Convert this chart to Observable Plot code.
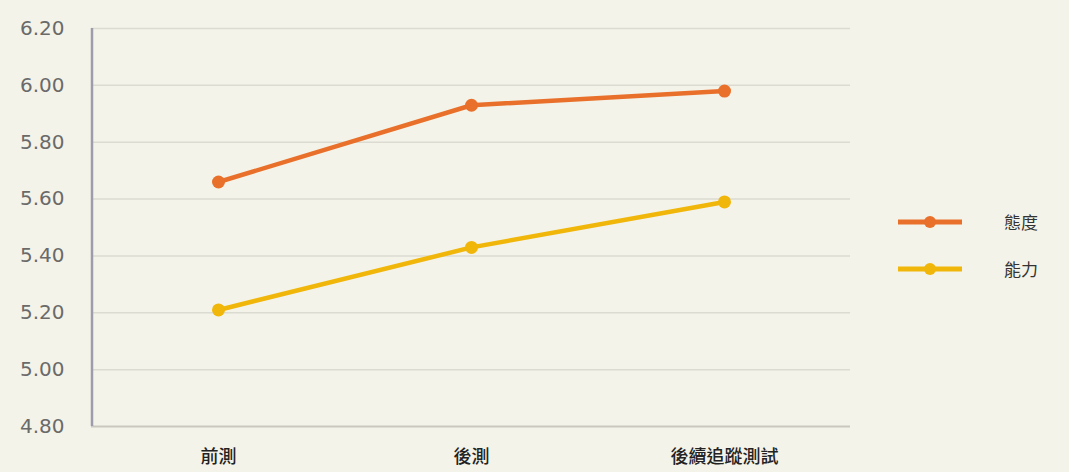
<!DOCTYPE html>
<html><head><meta charset="utf-8">
<script src="https://cdn.jsdelivr.net/npm/d3@7"></script>
<script src="https://cdn.jsdelivr.net/npm/@observablehq/plot@0.6"></script>
<style>
html,body{margin:0;padding:0;background:#f4f3e9;}
#wrap{position:relative;width:1069px;height:472px;overflow:hidden;}
#legend{position:absolute;left:0;top:0;font-family:"Noto Sans CJK TC",sans-serif;font-size:17px;color:#333;}
.item{position:absolute;display:flex;align-items:center;white-space:nowrap;}
</style></head>
<body><div id="wrap"><div id="chart"></div><div id="legend"></div></div>
<script>
const categories = ["前測", "後測", "後續追蹤測試"];
const seriesNames = ["態度", "能力"];
const attitude = [5.66, 5.93, 5.98];
const ability = [5.21, 5.43, 5.59];
const colors = ["#e8702a", "#f0b60a"];
const yTicks = [4.8, 5.0, 5.2, 5.4, 5.6, 5.8, 6.0, 6.2];

const data = [];
categories.forEach((c, i) => {
  data.push({cat: c, series: seriesNames[0], value: attitude[i]});
  data.push({cat: c, series: seriesNames[1], value: ability[i]});
});

const chart = Plot.plot({
  width: 1069, height: 472,
  marginLeft: 91, marginRight: 219, marginTop: 28, marginBottom: 46,
  style: {background: "#f4f3e9", fontFamily: "DejaVu Sans, sans-serif", overflow: "visible"},
  x: {type: "point", domain: categories, padding: 0.5, label: null},
  y: {domain: [4.8, 6.2], label: null},
  color: {domain: seriesNames, range: colors},
  marks: [
    Plot.ruleY(yTicks.slice(1), {stroke: "#dcdbd2", strokeWidth: 1.5}),
    Plot.ruleY([4.8], {stroke: "#c9c8c0", strokeWidth: 2}),
    Plot.ruleX([categories[0]], {stroke: "#9c9cab", strokeWidth: 2.5, dx: -126.5, y1: 4.8, y2: 6.2}),
    Plot.axisY({ticks: yTicks, tickFormat: d3.format(".2f"), tickSize: 0, tickPadding: 27, fontSize: 20, fill: "#6a6a6a", label: null}),
    Plot.axisX({tickSize: 0, tickPadding: 24, fontSize: 18, fill: "#222", fontWeight: 500, label: null, fontFamily: "Noto Sans CJK TC"}),
    Plot.line(data, {x: "cat", y: "value", stroke: "series", strokeWidth: 4.5}),
    Plot.dot(data, {x: "cat", y: "value", fill: "series", r: 6.5})
  ]
});
document.getElementById("chart").appendChild(chart);

const legend = document.getElementById("legend");
const tops = [210, 257];
seriesNames.forEach((s, i) => {
  const sw = document.createElement("div");
  sw.className = "item";
  sw.style.left = "898px"; sw.style.top = tops[i] + "px";
  sw.innerHTML = `<svg width="66" height="24"><line x1="0" y1="12" x2="64" y2="12" stroke="${colors[i]}" stroke-width="5"/><circle cx="32" cy="12" r="6" fill="${colors[i]}"/></svg>`;
  legend.appendChild(sw);
  const lab = document.createElement("div");
  lab.className = "item";
  lab.style.left = "1004px"; lab.style.top = (tops[i] - 1) + "px";
  lab.textContent = s;
  legend.appendChild(lab);
});
</script></body></html>
